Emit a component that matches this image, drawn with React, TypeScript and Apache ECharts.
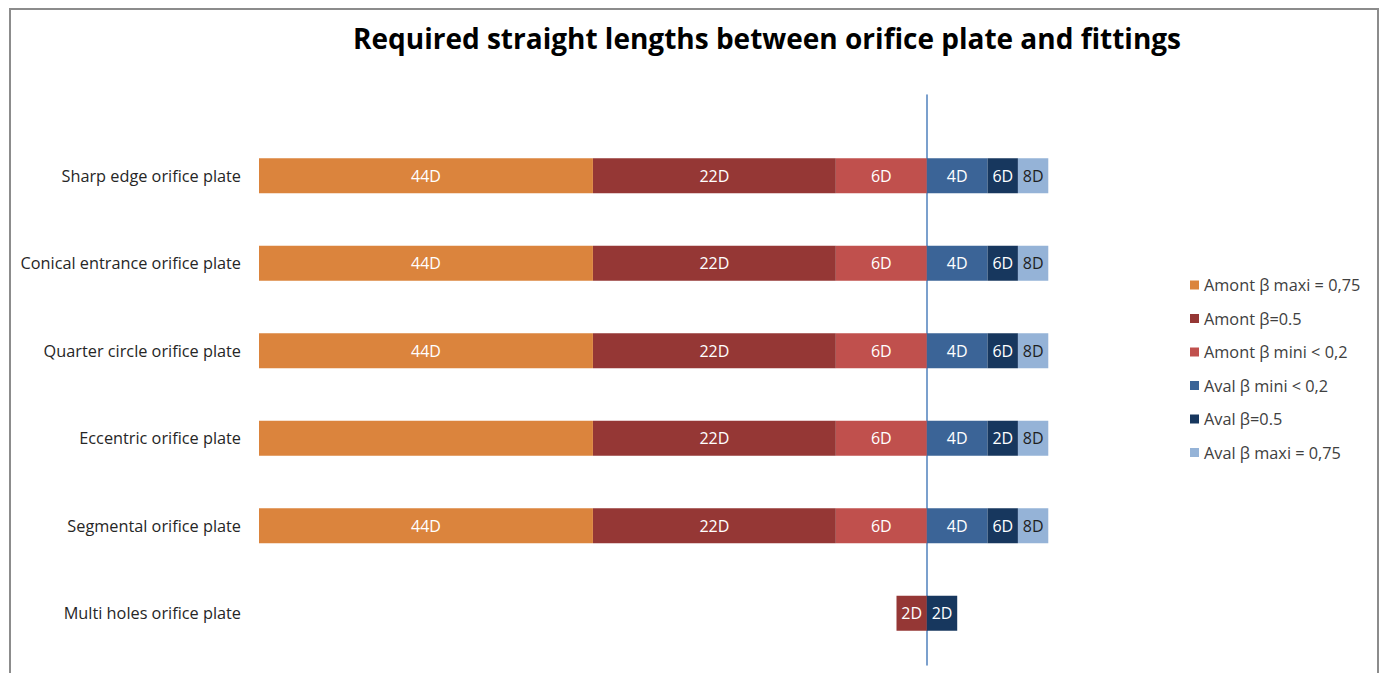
import React, { useEffect, useRef } from "react";
import * as echarts from "echarts";

const categories = [
  "Sharp edge orifice plate",
  "Conical entrance orifice plate",
  "Quarter circle orifice plate",
  "Eccentric orifice plate",
  "Segmental orifice plate",
  "Multi holes orifice plate",
];

// Upstream (left of the plate), segment lengths in D, negative = upstream
const amontMini = [-6, -6, -6, -6, -6, 0];
const amontMid = [-16, -16, -16, -16, -16, -2];
const amontMaxi = [-22, -22, -22, -22, -22, 0];
// Downstream (right of the plate)
const avalMini = [4, 4, 4, 4, 4, 0];
const avalMid = [2, 2, 2, 2, 2, 2];
const avalMaxi = [2, 2, 2, 2, 2, 0];

const amontMiniLabels = ["6D", "6D", "6D", "6D", "6D", ""];
const amontMidLabels = ["22D", "22D", "22D", "22D", "22D", "2D"];
const amontMaxiLabels = ["44D", "44D", "44D", "", "44D", ""];
const avalMiniLabels = ["4D", "4D", "4D", "4D", "4D", ""];
const avalMidLabels = ["6D", "6D", "6D", "2D", "6D", "2D"];
const avalMaxiLabels = ["8D", "8D", "8D", "8D", "8D", ""];

const names = [
  "Amont β maxi = 0,75",
  "Amont β=0.5",
  "Amont β mini < 0,2",
  "Aval β mini < 0,2",
  "Aval β=0.5",
  "Aval β maxi = 0,75",
];

const FONT = "'Open Sans', 'Noto Sans', sans-serif";

function mk(
  name: string,
  values: number[],
  labels: string[],
  color: string,
  labelColor: string
) {
  return {
    name,
    type: "bar",
    stack: "all",
    stackStrategy: "samesign",
    xAxisIndex: 0,
    yAxisIndex: 0,
    barWidth: 35,
    itemStyle: { color },
    label: {
      show: true,
      position: "inside",
      color: labelColor,
      fontSize: 16,
      fontFamily: FONT,
      formatter: (p: any) => labels[p.dataIndex],
    },
    data: values,
  };
}

export default function App() {
  const ref = useRef<HTMLDivElement>(null);
  useEffect(() => {
    document.body.style.margin = "0";
    const chart = echarts.init(ref.current!, null, { renderer: "svg" });
    const gridLeft = 259;
    const gridRight = 277;
    chart.setOption({
      animation: false,
      backgroundColor: "#ffffff",
      title: {
        text: "Required straight lengths between orifice plate and fittings",
        left: 348,
        top: 19,
        textStyle: { fontFamily: FONT, fontSize: 28, fontWeight: "bold", color: "#000" },
      },
      legend: {
        orient: "vertical",
        left: 1185,
        top: 272,
        icon: "rect",
        itemWidth: 9,
        itemHeight: 9,
        itemGap: 17.5,
        data: names,
        textStyle: { fontFamily: FONT, fontSize: 16.3, color: "#404040", lineHeight: 16 },
      },
      graphic: [
        {
          type: "rect",
          shape: { x: 10, y: 9, width: 1368, height: 720 },
          style: { fill: "none", stroke: "#8c8c8c", lineWidth: 2 },
          silent: true,
        },
      ],
      grid: [
        { left: gridLeft, right: gridRight, top: 132, height: 525 },
        { left: gridLeft, right: gridRight, top: 95, height: 570 },
      ],
      xAxis: [
        { type: "value", gridIndex: 0, min: -44, max: 12, show: false },
        { type: "value", gridIndex: 1, min: -44, max: 12, show: false },
      ],
      yAxis: [
        {
          type: "category",
          gridIndex: 0,
          inverse: true,
          data: categories,
          axisLine: { show: false, onZero: false },
          axisTick: { show: false },
          axisLabel: { margin: 18, fontFamily: FONT, fontSize: 16.3, color: "#262626" },
        },
        {
          type: "value",
          gridIndex: 1,
          min: 0,
          max: 1,
          axisLine: { show: true, onZero: true, lineStyle: { color: "#4F81BD", width: 1.5 } },
          axisTick: { show: false },
          axisLabel: { show: false },
          splitLine: { show: false },
        },
      ],
      series: [
        mk(names[2], amontMini, amontMiniLabels, "#C0504D", "#ffffff"),
        mk(names[1], amontMid, amontMidLabels, "#953735", "#ffffff"),
        mk(names[0], amontMaxi, amontMaxiLabels, "#DB843D", "#ffffff"),
        mk(names[3], avalMini, avalMiniLabels, "#3B6497", "#ffffff"),
        mk(names[4], avalMid, avalMidLabels, "#17375E", "#ffffff"),
        mk(names[5], avalMaxi, avalMaxiLabels, "#95B3D7", "#1f1f1f"),
        {
          type: "line",
          xAxisIndex: 1,
          yAxisIndex: 1,
          data: [],
          silent: true,
        },
      ],
    });
    return () => chart.dispose();
  }, []);
  return <div ref={ref} style={{ width: 1386, height: 673 }} />;
}
